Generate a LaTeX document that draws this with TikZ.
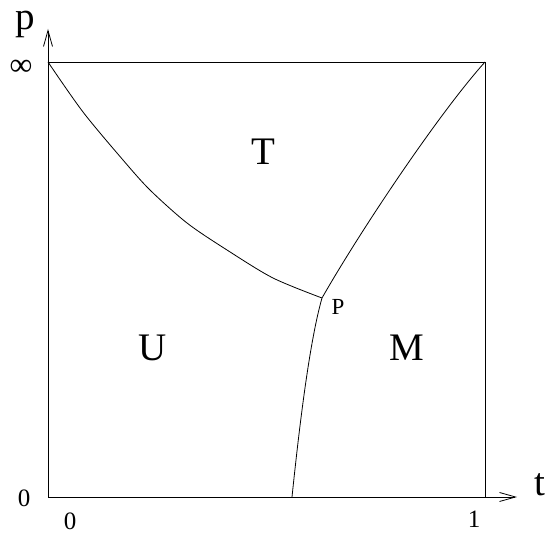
\documentclass[tikz,border=0pt]{standalone}
\usepackage{fontspec}
\setmainfont{Liberation Serif}
\usetikzlibrary{arrows.meta}
\begin{document}
\begin{tikzpicture}[x=1pt,y=-1pt,
  curve/.style={line width=0.8pt},
  axis/.style={line width=0.9pt,-{Straight Barb[length=16pt,width=9pt,line width=0.8pt]}},
  frame/.style={line width=0.9pt},
  big/.style={inner sep=0pt,font=\fontsize{39}{39}\selectfont},
  num/.style={inner sep=0pt,font=\fontsize{25}{25}\selectfont},
  inf/.style={inner sep=0pt,font=\fontsize{32}{32}\selectfont},
  small/.style={inner sep=0pt,font=\fontsize{23}{23}\selectfont}]
\useasboundingbox (0,0) rectangle (547,534);
\coordinate (O) at (48,497);
\coordinate (Y) at (48,29);
\coordinate (X) at (517,497);
\coordinate (TL) at (48,62);
\coordinate (TR) at (485,62);
\coordinate (BR) at (485,497);
\coordinate (J) at (322,298);
\coordinate (B) at (292,497);
% axes and frame
\draw[axis] (O) -- (Y);
\draw[axis] (O) -- (X);
\draw[frame] (TL) -- (TR) -- (BR);
% phase boundaries
\draw[curve] plot[smooth,tension=0.5] coordinates {(TL) (83,112) (123,160) (150,190) (187,223) (227,250) (273,278) (J)};
\draw[curve] (J) .. controls (362,228) and (440,112) .. (TR);
\draw[curve] (J) .. controls (310,340) and (300,420) .. (B);
% labels
\node[big] (lp) at (25,24) {p};
\node[big] (lt) at (540,485) {t};
\node[inf] (linf) at (21,68) {∞};
\node[num] (l0y) at (24,498) {0};
\node[num] (l0x) at (70,521) {0};
\node[num] (l1) at (474,519) {1};
\node[big] (lT) at (263,152) {T};
\node[big] (lU) at (153,348) {U};
\node[big] (lM) at (407,348) {M};
\node[small] (lP) at (338,307) {P};
\end{tikzpicture}
\end{document}
